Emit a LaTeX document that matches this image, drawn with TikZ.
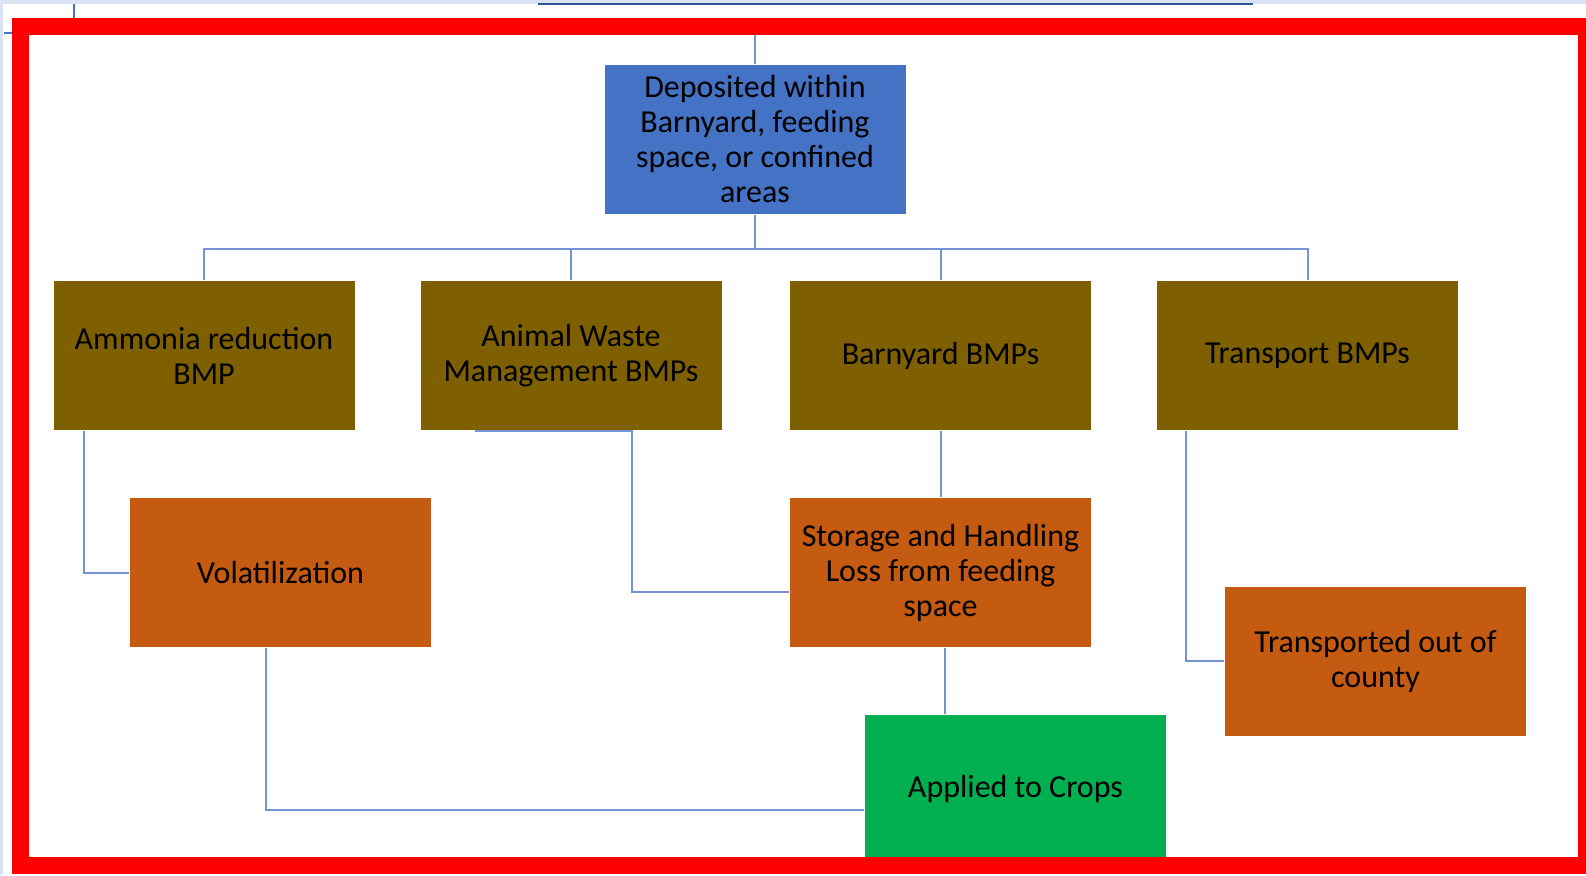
\documentclass[tikz,border=0pt]{standalone}
\usepackage{fontspec}
\setmainfont{Carlito}
\definecolor{depblue}{HTML}{4472C4}
\definecolor{bmpolive}{HTML}{7F6000}
\definecolor{lossorange}{HTML}{C55A11}
\definecolor{cropgreen}{HTML}{00B050}
\definecolor{linkblue}{HTML}{7293D4}
\definecolor{pageblue}{HTML}{DAE3F3}
\definecolor{topblue}{HTML}{2F5597}

\begin{document}
\begin{tikzpicture}[x=1pt, y=-1pt]
    \tikzstyle{every node}=[align = center, font=\fontsize{32}{35}\selectfont, text=black]
    \tikzstyle{box} = [rectangle, draw=white, line width=1pt, minimum width=302pt, minimum height=150pt, inner sep=0pt]
    \tikzstyle{link} = [draw=linkblue, line width=2pt]
    \useasboundingbox (0,0) rectangle (1586,875);
    \fill[pageblue] (0,0) rectangle (1586,875);
    \fill[white] (3,4) rectangle (1586,875);
    % what shows of the chart above
    \draw[topblue, line width=2pt] (538,4.5) -- (1253,4.5);
    \draw[depblue, line width=2pt] (74,4) -- (74,19);
    \draw[depblue, line width=2pt] (4,33) -- (16,33);

    \node[box, fill=depblue] (dep) at (755,139) {Deposited within\\ Barnyard, feeding\\ space, or confined\\ areas};
    \node[box, fill=bmpolive] (amm) at (204,355.5) {Ammonia reduction\\ BMP};
    \node[box, fill=bmpolive] (anw) at (571,355.5) {Animal Waste\\ Management BMPs};
    \node[box, fill=bmpolive] (bar) at (940.5,355.5) {Barnyard BMPs};
    \node[box, fill=bmpolive] (trn) at (1307.5,355.5) {Transport BMPs};
    \node[box, fill=lossorange] (vol) at (280.5,572.5) {Volatilization};
    \node[box, fill=lossorange] (sto) at (940.5,572.5) {Storage and Handling\\ Loss from feeding\\ space};
    \node[box, fill=lossorange] (out) at (1375.5,661) {Transported out of\\ county};
    \node[box, fill=cropgreen] (app) at (1015.5,789) {Applied to Crops};

    \draw[link] (dep.north) -- (755,30);
    \foreach \n in {amm,anw,bar,trn}
        \draw[link] (dep.south) -- ++(0,34) -| (\n.north);
    \draw[link] ([xshift=31pt]amm.south west) |- (vol.west);
    \draw[link] ([xshift=55pt]anw.south west) -- ([xshift=212pt]anw.south west) |- ([yshift=-19.5pt]sto.west);
    \draw[link] (bar.south) -- (sto.north);
    \draw[link] ([xshift=4.5pt]sto.south) -- ([xshift=-70.5pt]app.north);
    \draw[link] ([xshift=-14.5pt]vol.south) |- ([yshift=-21pt]app.west);
    \draw[link] ([xshift=-121.5pt]trn.south) |- (out.west);

    \draw[red, line width=17pt] (20.5,26.5) rectangle (1586.5,865);
\end{tikzpicture}
\end{document}
